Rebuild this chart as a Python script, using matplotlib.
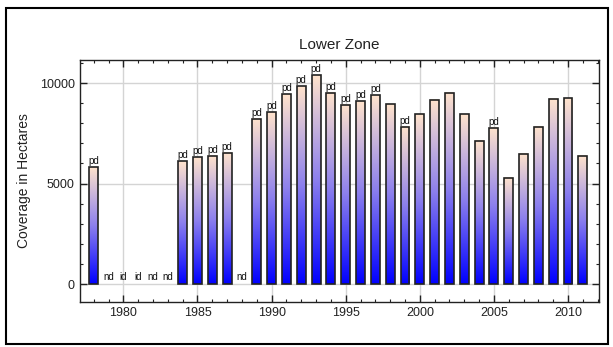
import numpy as np
import matplotlib.pyplot as plt
from matplotlib.colors import LinearSegmentedColormap
from matplotlib.patches import Rectangle
from matplotlib.ticker import MultipleLocator

years = list(range(1978, 2012))
coverage = [5800, 0, 0, 0, 0, 0, 6100, 6310, 6380, 6530, 0,
            8220, 8540, 9450, 9850, 10380, 9520, 8920, 9090, 9400, 8940,
            7820, 8440, 9170, 9520, 8440, 7130, 7770, 5280, 6480, 7840,
            9220, 9250, 6380]
flags = ["pd", "nd", "id", "id", "nd", "nd", "pd", "pd", "pd", "pd", "nd",
         "pd", "pd", "pd", "pd", "pd", "pd", "pd", "pd", "pd", "",
         "pd", "", "", "", "", "", "pd", "", "", "",
         "", "", ""]

plt.rcParams['font.family'] = ['Liberation Sans', 'DejaVu Sans']

fig = plt.figure(figsize=(6.13, 3.47), dpi=100)
ax = fig.add_axes([0.1297, 0.1305, 0.8475, 0.6966])

# outer frame around the whole picture
fig.patches.append(Rectangle((6 / 613, 3 / 347), 602 / 613, 336 / 347,
                             transform=fig.transFigure, fill=False,
                             edgecolor='black', linewidth=1.5))

cmap = LinearSegmentedColormap.from_list(
    'bar', [(0, 0, 1), (0.55, 0.5, 0.93), (1.0, 0.89, 0.8)])
grad = np.linspace(0, 1, 256).reshape(-1, 1)
width = 0.6

for yr, val, flag in zip(years, coverage, flags):
    if val > 0:
        ax.imshow(grad, extent=[yr - width / 2, yr + width / 2, 0, val],
                  origin='lower', aspect='auto', cmap=cmap, zorder=2)
        ax.bar(yr, val, width=width, fill=False, edgecolor='#222222',
               linewidth=1.2, zorder=3)
        if flag:
            ax.text(yr, val + 60, flag, ha='center', va='bottom',
                    fontsize=7, color='#111111', zorder=4)
    elif flag:
        ax.text(yr, 120, flag, ha='center', va='bottom',
                fontsize=7, color='#111111', zorder=4)

ax.set_xlim(1977.04, 2012.09)
ax.set_ylim(-880, 11150)
ax.xaxis.set_major_locator(MultipleLocator(5))
ax.xaxis.set_minor_locator(MultipleLocator(1))
ax.yaxis.set_major_locator(MultipleLocator(5000))
ax.yaxis.set_minor_locator(MultipleLocator(1000))
ax.tick_params(which='both', direction='in', top=True, right=True,
               labelsize=9, labelcolor='#222222', color='#222222')
ax.tick_params(which='major', length=5, width=1)
ax.tick_params(which='minor', length=2.5, width=0.8)
ax.grid(True, which='major', color='#d4d4d4', linewidth=1, zorder=0)
ax.set_axisbelow(True)
for sp in ax.spines.values():
    sp.set_color('#222222')
    sp.set_linewidth(1)

ax.set_title('Lower Zone', fontsize=11, color='#222222', pad=8)
ax.set_ylabel('Coverage in Hectares', fontsize=10, color='#222222', labelpad=6)

fig.savefig('out.png', dpi=100)
